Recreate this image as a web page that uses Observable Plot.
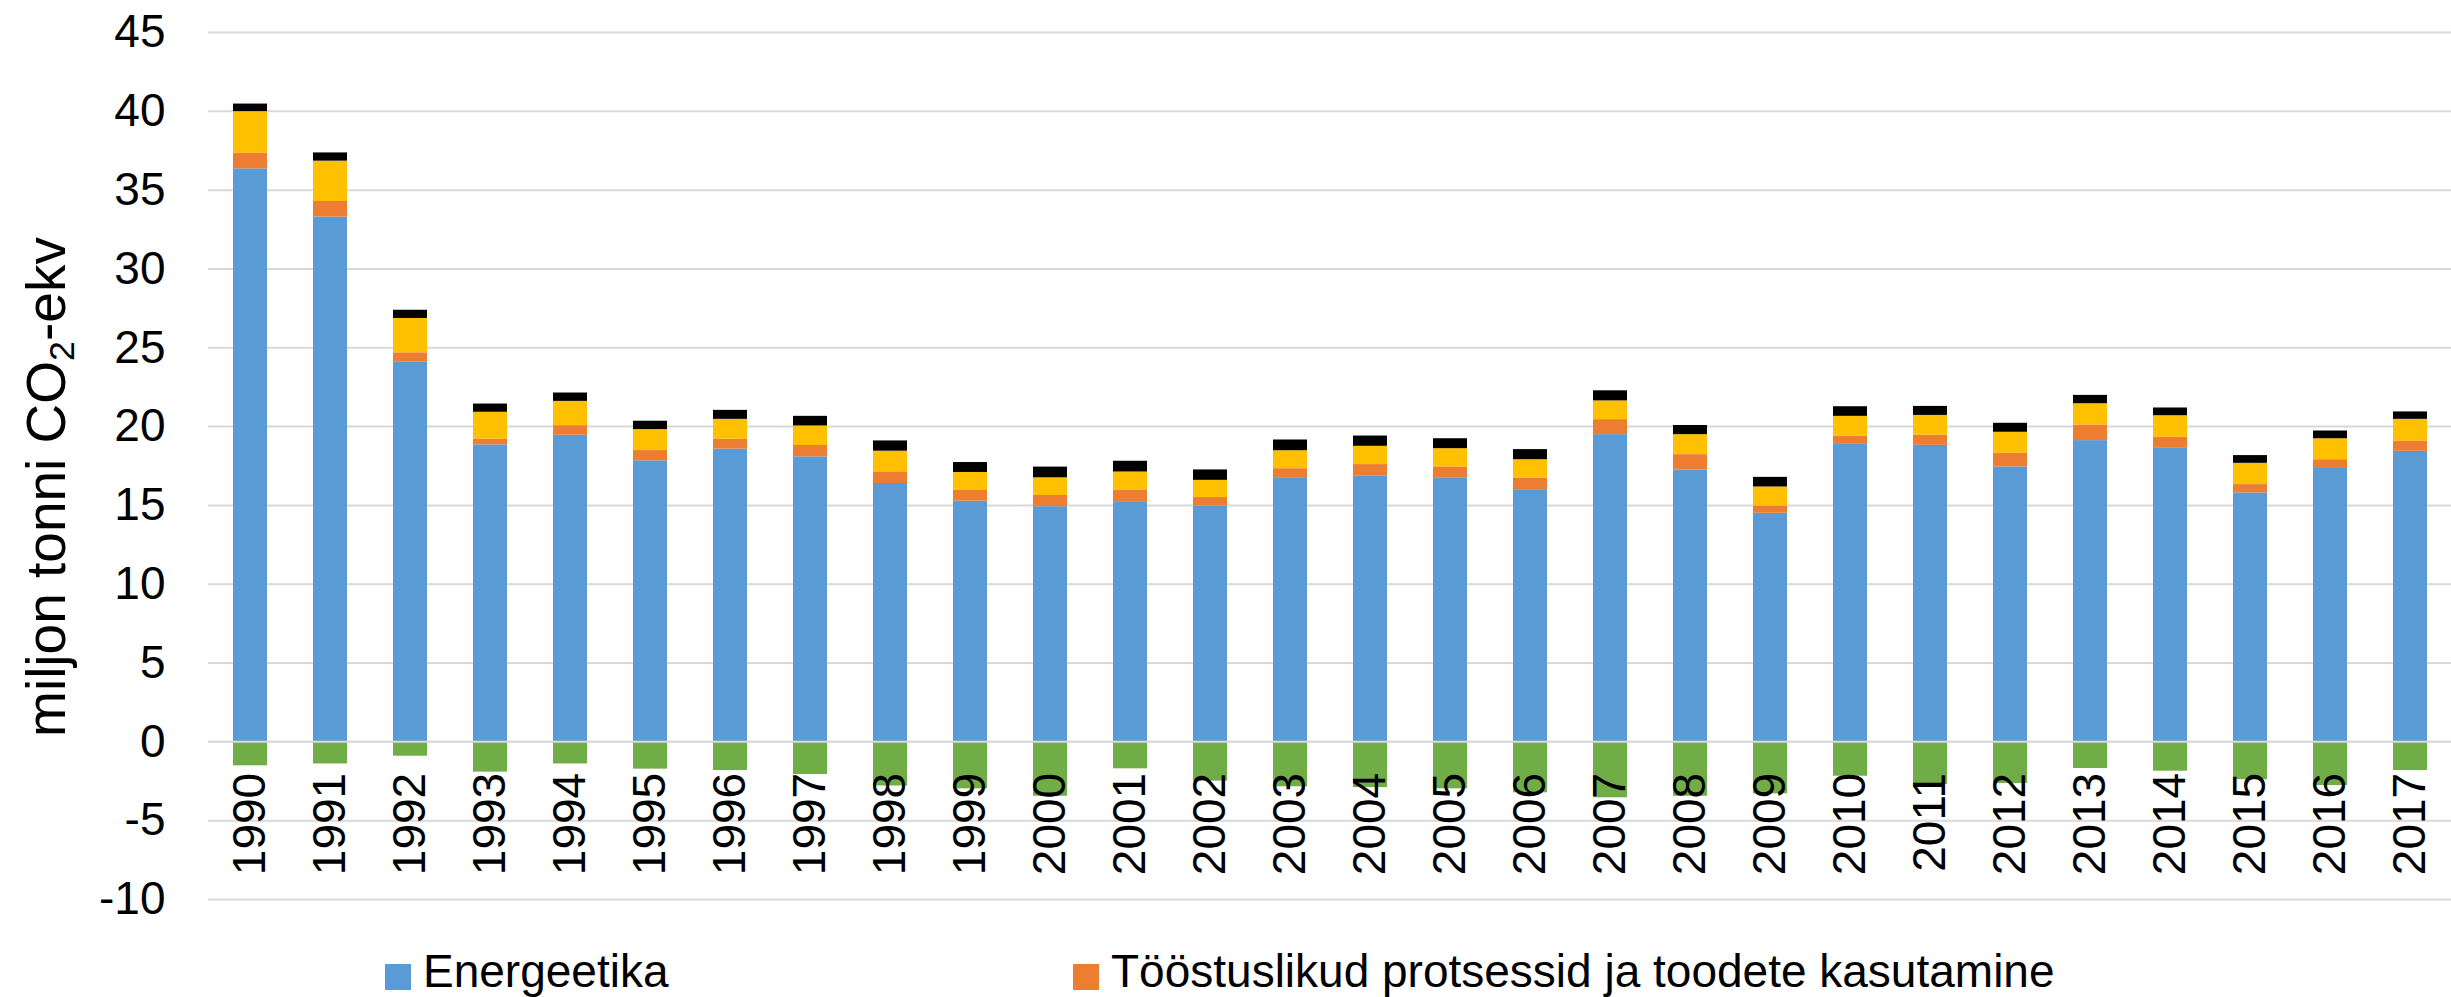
<!DOCTYPE html>
<html><head><meta charset="utf-8">
<script src="https://cdn.jsdelivr.net/npm/d3@7"></script>
<script src="https://cdn.jsdelivr.net/npm/@observablehq/plot@0.6"></script>
<style>
body{margin:0;background:#fff;font-family:"Liberation Sans",Arial,sans-serif;}
#wrap{position:relative;width:2451px;height:997px;overflow:hidden;background:#fff;}
#chart{position:absolute;left:0;top:0;}
#ytitle{position:absolute;left:46px;top:487px;transform:translate(-50%,-50%) rotate(-90deg);font-size:55px;line-height:62px;white-space:nowrap;color:#000;}
#ytitle sub{font-size:0.65em;vertical-align:-0.25em;line-height:0;}
.legtxt{position:absolute;font-size:46px;line-height:46px;white-space:nowrap;color:#000;}
.sw{position:absolute;width:26px;height:26px;}
</style></head><body>
<div id="wrap">
  <div id="chart"></div>
  <div id="ytitle">miljon tonni CO<sub>2</sub>-ekv</div>
  <div id="legend"></div>
</div>
<script>
const years = [1990,1991,1992,1993,1994,1995,1996,1997,1998,1999,2000,2001,2002,2003,2004,2005,2006,2007,2008,2009,2010,2011,2012,2013,2014,2015,2016,2017];
const seriesNames = ["Energeetika","Tööstuslikud protsessid ja toodete kasutamine","Põllumajandus","Jäätmekäitlus","LULUCF"];
const energeetika = [36.35,33.29,24.11,18.84,19.45,17.83,18.57,18.08,16.39,15.27,14.92,15.24,14.97,16.76,16.85,16.72,16.00,19.49,17.25,14.50,18.87,18.81,17.44,19.11,18.62,15.79,17.40,18.43];
const toostus = [0.99,0.99,0.57,0.36,0.61,0.65,0.63,0.72,0.74,0.68,0.71,0.74,0.53,0.57,0.74,0.72,0.74,0.95,0.97,0.47,0.53,0.64,0.87,0.99,0.70,0.53,0.50,0.64];
const pollumajandus = [2.64,2.56,2.18,1.71,1.54,1.33,1.26,1.24,1.31,1.14,1.12,1.14,1.09,1.14,1.16,1.16,1.16,1.19,1.27,1.20,1.25,1.26,1.33,1.35,1.37,1.35,1.33,1.39];
const jaatmed = [0.48,0.52,0.52,0.52,0.53,0.53,0.57,0.61,0.65,0.63,0.68,0.68,0.66,0.68,0.65,0.63,0.64,0.64,0.58,0.61,0.61,0.57,0.57,0.53,0.49,0.49,0.49,0.47];
const lulucf = [-1.52,-1.40,-0.91,-1.92,-1.40,-1.73,-1.82,-2.07,-2.80,-2.98,-3.45,-1.71,-2.49,-2.85,-2.90,-2.98,-3.23,-3.55,-3.45,-3.30,-2.18,-2.70,-2.64,-1.69,-1.86,-2.40,-2.77,-1.82];
const colors = ["#5B9BD5","#ED7D31","#FFC000","#000000","#70AD47"];
const yTicks = [-10,-5,0,5,10,15,20,25,30,35,40,45];
const legendShown = ["Energeetika","Tööstuslikud protsessid ja toodete kasutamine"];

const seriesValues = [energeetika, toostus, pollumajandus, jaatmed, lulucf];
const data = [];
seriesNames.forEach((s, i) => years.forEach((y, j) => data.push({year: y, series: s, value: seriesValues[i][j]})));

const chart = Plot.plot({
  width: 2451, height: 930,
  marginLeft: 208, marginRight: 0, marginTop: 32, marginBottom: 31,
  style: {fontFamily: "'Liberation Sans', Arial, sans-serif", fontSize: "46px", background: "white", color: "black"},
  x: {type: "band", domain: years, paddingInner: 0.575, paddingOuter: 0.2875, axis: null},
  y: {domain: [-10, 45], axis: null},
  color: {domain: seriesNames, range: colors},
  marks: [
    Plot.gridY(yTicks, {stroke: "#d9d9d9", strokeOpacity: 1, strokeWidth: 2}),
    Plot.barY(data, {x: "year", y: "value", fill: "series", z: "series", order: seriesNames}),
    Plot.ruleY([0], {stroke: "#d9d9d9", strokeWidth: 2}),
    Plot.axisY(yTicks, {tickSize: 0, tickPadding: 43, tickFormat: d => String(d), fontSize: 46, label: null}),
    Plot.text(years, {x: d => d, y: () => 0, text: d => String(d), rotate: -90, textAnchor: "end", dy: 31, fontSize: 46, fill: "black"})
  ]
});
document.getElementById("chart").appendChild(chart);

const legend = document.getElementById("legend");
const legLeft = [385, 1073];
legendShown.forEach((name, k) => {
  const sw = document.createElement("div");
  sw.className = "sw";
  sw.style.left = legLeft[k] + "px";
  sw.style.top = "964px";
  sw.style.background = colors[seriesNames.indexOf(name)];
  legend.appendChild(sw);
  const t = document.createElement("div");
  t.className = "legtxt";
  t.style.left = (legLeft[k] + 38) + "px";
  t.style.top = "948px";
  t.textContent = name;
  legend.appendChild(t);
});
</script>
</body></html>
